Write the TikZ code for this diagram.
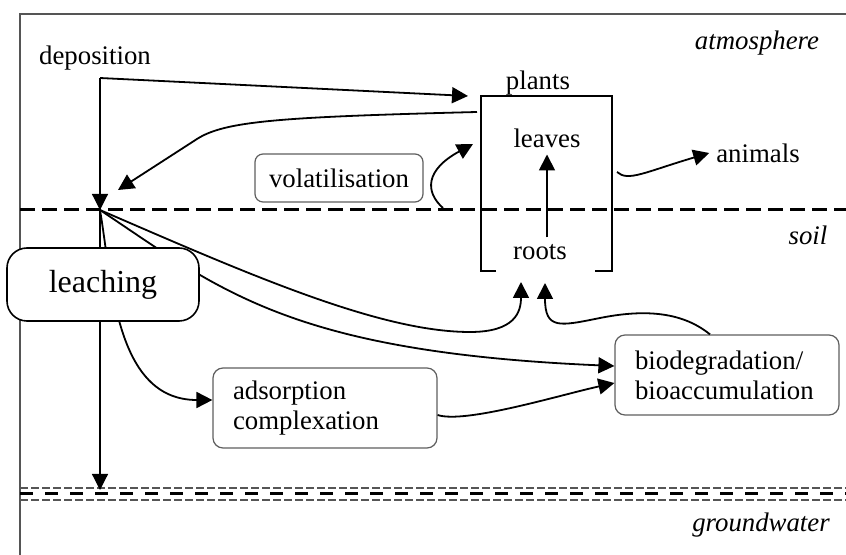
\documentclass[tikz,border=0pt]{standalone}
\usepackage{fontspec}
\setmainfont{Liberation Serif}
\usepackage{tikz}
\usetikzlibrary{arrows.meta}
\tikzstyle{sketch} = [x = .5pt, y = -.5pt, font=\fontsize{13.4}{15}\selectfont]
\definecolor{frameColor}{RGB}{85,85,85}
\definecolor{boxColor}{RGB}{95,95,95}
\tikzstyle{frameLine} = [color=frameColor, line width=1pt]
\tikzstyle{soilLine} = [black, line width=1.5pt, dash pattern=on 7.5pt off 3.5pt]
\tikzstyle{groundLine} = [black, line width=1.5pt, dash pattern=on 6.5pt off 6pt]
\tikzstyle{groundThinLine} = [color=frameColor, line width=.7pt, dash pattern=on 4pt off 1.5pt]
\tikzstyle{flow} = [line width=.9pt, -{Triangle[length=8pt, width=8pt]}]
\tikzstyle{thinFlow} = [line width=.6pt, -{Triangle[length=8pt, width=8pt]}]
\tikzstyle{plantsLine} = [line width=.8pt]
\tikzstyle{processBox} = [draw=boxColor, line width=.6pt, fill=white, rounded corners=5pt, align=left, text width=92pt, inner xsep=10pt, minimum height=40pt]
\tikzstyle{volatilisationBox} = [draw=boxColor, line width=.6pt, fill=white, rounded corners=4pt, minimum width=84pt, minimum height=24pt]
\tikzstyle{leachingBox} = [draw, line width=.8pt, fill=white, rounded corners=10pt, minimum width=96pt, minimum height=36.5pt, font=\fontsize{16}{18}\selectfont]
\tikzstyle{layerLabel} = [font=\fontsize{13.4}{15}\selectfont\itshape]
\newcommand{\layerLine}[2]{\draw [#1] (20,#2) -- (846,#2);}

\begin{document}
\begin{tikzpicture}[sketch]
  \useasboundingbox (0,0) rectangle (846,555);
  \draw [frameLine] (20,555) -- (20,14) -- (846,14);
  \layerLine{soilLine}{210}
  \foreach \level in {488,500} {\layerLine{groundThinLine}{\level}}
  \layerLine{groundLine}{494}

  \node (atmosphere) [layerLabel] at (757,43) {atmosphere};
  \node (soil) [layerLabel] at (808,235) {soil};
  \node (groundwater) [layerLabel] at (761,525) {groundwater};

  \node (deposition) at (95,58) {deposition};
  \coordinate (depositionCorner) at (100,78);
  \coordinate (junction) at (100,210);
  \coordinate (junctionIn) at (118,190);
  \coordinate (groundwaterHit) at (100,490);

  \node (plantsBox) [inner sep=0, outer sep=0, minimum width=65.5pt, minimum height=87.5pt] at (546.5,183.5) {};
  \draw [plantsLine] ([xshift=7.5pt]plantsBox.south west) -- (plantsBox.south west) -- (plantsBox.north west)
    -- (plantsBox.north east) -- (plantsBox.south east) -- ([xshift=-8.5pt]plantsBox.south east);
  \node (plants) at (538,83) {plants};
  \node (leaves) at (547,138) {leaves};
  \node (roots) at (540,252) {roots};
  \node (animals) at (758,153) {animals};
  \coordinate (plantsOut) at (477,112);
  \coordinate (plantsRight) at (617,172);
  \coordinate (rootsLeftIn) at (521,282);
  \coordinate (rootsRightIn) at (545,283);
  \coordinate (soilStart) at (443,208);

  \node (volatilisation) [volatilisationBox] at (339,178) {volatilisation};
  \node (adsorption) [processBox] at (325,408) {adsorption\\complexation};
  \node (biodegradation) [processBox] at (727,375) {biodegradation/\\bioaccumulation};

  \draw [thinFlow] (depositionCorner) -- (junction);
  \draw [flow] (depositionCorner) -- ([xshift=-6.5pt]plantsBox.north west);
  \draw [flow] (plantsOut) .. controls (280,117) and (225,121) .. (197,139) -- (junctionIn);
  \draw [flow] (soilStart) .. controls (425,192) and (425,170) .. (473,144);
  \draw [flow] (roots.north -| leaves.south) -- (leaves.south);
  \draw [flow] (plantsRight) .. controls (628,182) and (645,172) .. (animals.west);

  \draw [thinFlow] (junction) -- (groundwaterHit);
  \draw [flow] (junction) .. controls (112,280) and (115,400) .. ([yshift=4pt]adsorption.west);
  \draw [flow] (junction) .. controls (250,275) and (380,332) .. (470,332)
    .. controls (515,332) and (521,312) .. (rootsLeftIn);
  \draw [flow] (junction) .. controls (220,290) and (290,352) .. ([yshift=4.5pt]biodegradation.west);
  \draw [flow] ([yshift=-3.5pt]adsorption.east) .. controls (465,424) and (560,395) .. ([yshift=-4pt]biodegradation.west);
  \draw [flow] ([xshift=-8.5pt]biodegradation.north) .. controls (680,310) and (640,310) .. (600,318)
    .. controls (560,326) and (545,330) .. (rootsRightIn);

  \node (leaching) [leachingBox] at (103,284.5) {leaching};
\end{tikzpicture}
\end{document}
